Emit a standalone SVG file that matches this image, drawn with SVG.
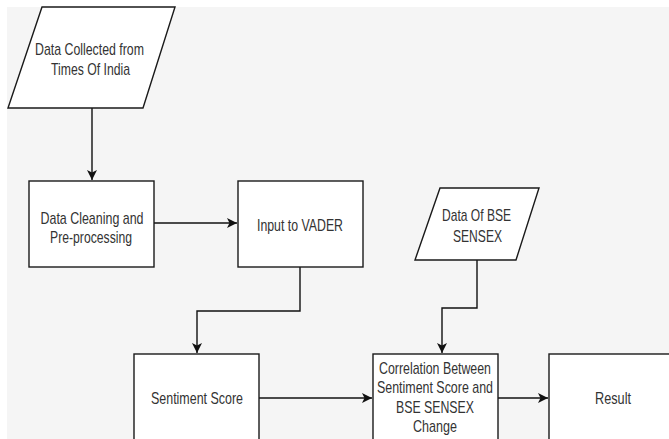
<svg xmlns="http://www.w3.org/2000/svg" width="669" height="439" viewBox="0 0 669 439">
<defs>
<style>
.box{fill:#ffffff;stroke:#1a1a1a;stroke-width:1.4}
.edge{fill:none;stroke:#111111;stroke-width:1.4}
.t{font-family:"Liberation Sans",Arial,sans-serif;font-size:17px;fill:#333333;text-anchor:middle}
</style>
<marker id="arr" markerWidth="11" markerHeight="11" refX="10" refY="5" orient="auto" markerUnits="userSpaceOnUse">
<path d="M0,0 L10,5 L0,10 L2.5,5 z" fill="#111111"/>
</marker>
</defs>
<rect x="0" y="0" width="669" height="439" fill="#ffffff"/>
<rect x="7" y="7" width="662" height="432" fill="#f5f5f5"/>

<g id="connectors">
<path class="edge" d="M92,108 L92,180" marker-end="url(#arr)"/>
<path class="edge" d="M154,223 L237,223" marker-end="url(#arr)"/>
<path class="edge" d="M300,267 L300,311 L197,311 L197,353" marker-end="url(#arr)"/>
<path class="edge" d="M477,260 L477,308 L442,308 L442,353" marker-end="url(#arr)"/>
<path class="edge" d="M259,398 L372,398" marker-end="url(#arr)"/>
<path class="edge" d="M498,398 L548,398" marker-end="url(#arr)"/>
</g>

<g id="times-of-india">
<polygon class="box" points="42,7 175,7 143,108 8,108"/>
<text class="t" x="89.5" y="55" textLength="109" lengthAdjust="spacingAndGlyphs">Data Collected from</text>
<text class="t" x="90.5" y="75" textLength="79" lengthAdjust="spacingAndGlyphs">Times Of India</text>
</g>

<g id="cleaning">
<rect class="box" x="29" y="181" width="125" height="86"/>
<text class="t" x="92" y="224" textLength="103" lengthAdjust="spacingAndGlyphs">Data Cleaning and</text>
<text class="t" x="91" y="243" textLength="82" lengthAdjust="spacingAndGlyphs">Pre-processing</text>
</g>

<g id="vader">
<rect class="box" x="238" y="181" width="125" height="86"/>
<text class="t" x="300" y="231" textLength="86" lengthAdjust="spacingAndGlyphs">Input to VADER</text>
</g>

<g id="bse">
<polygon class="box" points="440,188 539,188 516,260 415,260"/>
<text class="t" x="476.5" y="221" textLength="69" lengthAdjust="spacingAndGlyphs">Data Of BSE</text>
<text class="t" x="477.5" y="242" textLength="49" lengthAdjust="spacingAndGlyphs">SENSEX</text>
</g>

<g id="sentiment">
<rect class="box" x="134" y="354" width="125" height="100"/>
<text class="t" x="197" y="404" textLength="92" lengthAdjust="spacingAndGlyphs">Sentiment Score</text>
</g>

<g id="correlation">
<rect class="box" x="373" y="354" width="125" height="100"/>
<text class="t" x="435" y="374" textLength="112" lengthAdjust="spacingAndGlyphs">Correlation Between</text>
<text class="t" x="435" y="393" textLength="116" lengthAdjust="spacingAndGlyphs">Sentiment Score and</text>
<text class="t" x="435" y="413" textLength="78" lengthAdjust="spacingAndGlyphs">BSE SENSEX</text>
<text class="t" x="435" y="432" textLength="44" lengthAdjust="spacingAndGlyphs">Change</text>
</g>

<g id="result">
<rect class="box" x="549" y="354" width="130" height="100"/>
<text class="t" x="613" y="404" textLength="36" lengthAdjust="spacingAndGlyphs">Result</text>
</g>
</svg>
